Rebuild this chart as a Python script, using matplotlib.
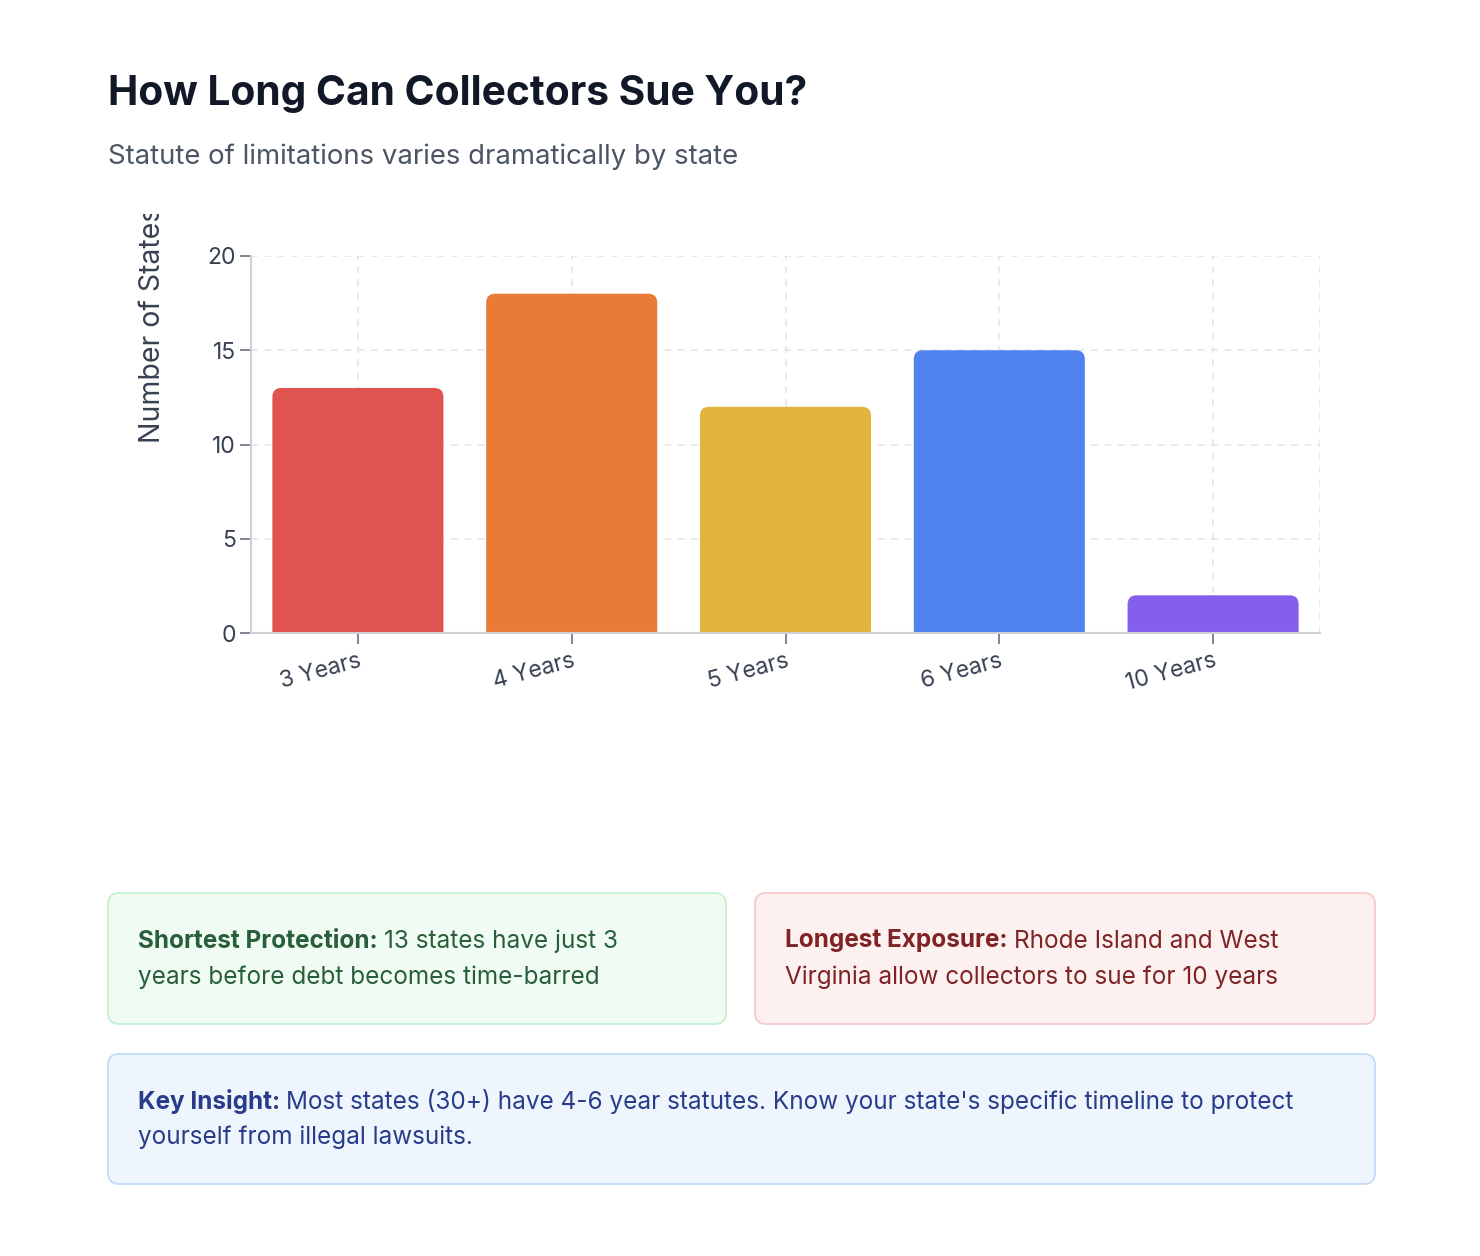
import matplotlib
matplotlib.use("Agg")
import matplotlib.pyplot as plt
from matplotlib import patches
from matplotlib.path import Path
from matplotlib.transforms import IdentityTransform, Bbox

plt.rcParams['font.family'] = ['Inter', 'DejaVu Sans']

# Data
categories = ["3 Years", "4 Years", "5 Years", "6 Years", "10 Years"]
states = [13, 18, 12, 15, 2]
bar_colors = ["#E0534F", "#E87C37", "#E1B43E", "#4F82EE", "#845EEC"]
y_ticks = [0, 5, 10, 15, 20]

title = "How Long Can Collectors Sue You?"
subtitle = "Statute of limitations varies dramatically by state"
y_label = "Number of States"

# (bold head, rest of line 1, line 2)
cards = [
    ("Shortest Protection:", "13 states have just 3", "years before debt becomes time-barred"),
    ("Longest Exposure:", "Rhode Island and West", "Virginia allow collectors to sue for 10 years"),
    ("Key Insight:", "Most states (30+) have 4-6 year statutes. Know your state's specific timeline to protect",
     "yourself from illegal lawsuits."),
]
card_fill = ["#F0FBF3", "#FCF0F0", "#EEF5FD"]
card_edge = ["#C6F0D2", "#F6CACA", "#C2DCF7"]
card_text = ["#285E3A", "#7F2424", "#283C8A"]

# Layout (pixels)
W, H = 1480, 1256
AX_L, AX_R, AX_T, AX_B = 251, 1320, 256, 633
CORNER = 9
CARD_FS = 17.5


def fx(x):
    return x / W


def fy(y):
    return 1 - y / H


def rounded_top(x0, w, h, rx, ry):
    x1 = x0 + w
    ry = min(ry, h)
    verts = [(x0, 0), (x0, h - ry), (x0, h), (x0 + rx, h), (x1 - rx, h),
             (x1, h), (x1, h - ry), (x1, 0), (x0, 0)]
    codes = [Path.MOVETO, Path.LINETO, Path.CURVE3, Path.CURVE3, Path.LINETO,
             Path.CURVE3, Path.CURVE3, Path.LINETO, Path.CLOSEPOLY]
    return Path(verts, codes)


fig = plt.figure(figsize=(W / 100, H / 100), dpi=100)
fig.patch.set_facecolor("white")

ax = fig.add_axes([fx(AX_L), fy(AX_B), (AX_R - AX_L) / W, (AX_B - AX_T) / H])
x = list(range(len(categories)))
bars = ax.bar(x, states, width=0.8, color=bar_colors)
ax.set_xlim(-0.5, len(categories) - 0.5)
ax.set_ylim(0, 20)

# swap plain bars for ones with rounded top corners
rx = CORNER / ((AX_R - AX_L) / len(categories))
ry = CORNER / ((AX_B - AX_T) / 20)
for b in bars:
    path = rounded_top(b.get_x(), b.get_width(), b.get_height(), rx, ry)
    ax.add_patch(patches.PathPatch(path, facecolor=b.get_facecolor(), edgecolor="none", zorder=2))
    b.set_visible(False)

ax.set_yticks(y_ticks)
ax.set_xticks(x)
ax.set_xticklabels(categories, rotation=15, ha="right", va="top", rotation_mode="anchor")
ax.tick_params(axis="both", colors="#6B7280", labelcolor="#374151", labelsize=16.5,
               length=8, width=1.2)
ax.tick_params(axis="y", pad=3)
ax.tick_params(axis="x", pad=4)

ax.grid(True, color="#E3E5E8", linestyle=(0, (4, 4)), linewidth=1.2, zorder=0)
ax.set_axisbelow(True)
for side in ["top", "right"]:
    ax.spines[side].set_visible(False)
for side in ["left", "bottom"]:
    ax.spines[side].set_color("#CDD1D6")
    ax.spines[side].set_linewidth(1.5)
# dashed right edge like the grid
ax.axvline(len(categories) - 0.5, color="#E3E5E8", linestyle=(0, (4, 4)), linewidth=1.2, zorder=0)

ylab = fig.text(fx(152), fy(443), y_label, rotation=90, ha="center", va="bottom",
                fontsize=20.5, color="#374151")
ylab.set_clip_box(Bbox([[0, 0], [W, H - 214]]))
ylab.set_clip_on(True)

fig.text(fx(108), fy(94), title, fontsize=29.3, fontweight="bold", color="#111827",
         ha="left", va="center")
fig.text(fx(108), fy(157), subtitle, fontsize=19.8, color="#4B5563", ha="left", va="center")

# cards
renderer = fig.canvas.get_renderer()
boxes = [(108, 893, 726, 1024), (755, 893, 1375, 1024), (108, 1054, 1375, 1184)]
line1_y = [941, 941, 1101]
for i, (x0, y0, x1, y1) in enumerate(boxes):
    card = patches.FancyBboxPatch((x0, H - y1), x1 - x0, y1 - y0,
                                  boxstyle="round,pad=0,rounding_size=11",
                                  facecolor=card_fill[i], edgecolor=card_edge[i],
                                  linewidth=1.3, transform=IdentityTransform())
    fig.patches.append(card)
    card.set_figure(fig)

    head, rest, second = cards[i]
    ty = line1_y[i]
    t = fig.text(fx(x0 + 30), fy(ty), head, fontsize=CARD_FS, fontweight="bold",
                 color=card_text[i], ha="left", va="center")
    head_end = t.get_window_extent(renderer).x1
    fig.text(fx(head_end + 6), fy(ty), rest, fontsize=CARD_FS, color=card_text[i],
             ha="left", va="center")
    fig.text(fx(x0 + 30), fy(ty + 36), second, fontsize=CARD_FS, color=card_text[i],
             ha="left", va="center")

fig.savefig("out.png", dpi=100, facecolor="white")
